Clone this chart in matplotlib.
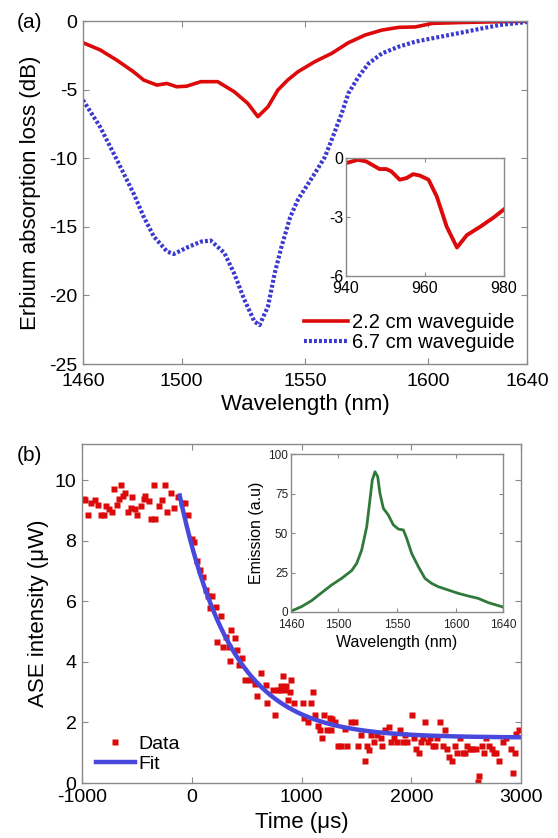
import matplotlib
matplotlib.use("Agg")
import matplotlib.pyplot as plt
import numpy as np

plt.rcParams["font.family"] = ["Liberation Sans", "DejaVu Sans"]
plt.rcParams["axes.unicode_minus"] = False

# ---- panel (a): erbium absorption loss ----
wl_22 = [1460, 1466.9, 1473.7, 1480.5, 1484.6, 1490, 1494, 1498, 1502, 1507.8,
         1514.6, 1521.3, 1526.8, 1530.9, 1535, 1539, 1543, 1547.2, 1554, 1560.8,
         1567.6, 1574.4, 1581.2, 1588, 1594.8, 1601.6, 1615, 1628.8, 1640]
loss_22 = [-1.58, -2.1, -2.85, -3.7, -4.3, -4.67, -4.55, -4.79, -4.75, -4.42,
           -4.42, -5.15, -6.0, -6.97, -6.25, -5.03, -4.3, -3.69, -2.96, -2.36,
           -1.58, -1.02, -0.66, -0.46, -0.43, -0.17, -0.1, -0.05, -0.02]

wl_67 = [1460, 1466.9, 1473.7, 1480.5, 1484.6, 1488.7, 1494.1, 1496.8, 1502.3,
         1507.8, 1511.8, 1517.3, 1521.3, 1525.4, 1529.5, 1531.6, 1535, 1537.7,
         1540.4, 1544, 1547.2, 1554, 1558.1, 1560.8, 1564.9, 1567.6, 1571.7,
         1575.8, 1581.2, 1588, 1594.8, 1601.6, 1608.4, 1615.2, 1622, 1628.8, 1640]
loss_67 = [-5.76, -7.7, -10.1, -12.56, -14.26, -15.7, -16.8, -16.98, -16.5,
           -16.08, -16.0, -16.9, -18.4, -20.3, -21.9, -22.16, -20.8, -18.4,
           -16.5, -14.3, -13.0, -11.1, -9.9, -8.67, -6.73, -5.27, -4.06,
           -3.09, -2.36, -1.87, -1.5, -1.26, -1.02, -0.78, -0.53, -0.29, -0.07]

wl_inset = [940, 943, 945.1, 948.5, 950.2, 951.5, 953.6, 955.3, 957, 958.7,
            960.9, 963, 965.5, 968.1, 970.6, 974, 977.4, 980]
loss_inset = [-0.26, -0.09, -0.17, -0.56, -0.56, -0.68, -1.1, -1.02, -0.82,
              -0.89, -1.1, -1.96, -3.49, -4.55, -3.92, -3.49, -3.02, -2.61]

# ---- panel (b): ASE decay ----
t_data = [-985, -970, -945, -915, -885, -855, -824, -803, -782, -758, -727,
          -706, -682, -667, -642, -630, -606, -582, -552, -545, -521, -500,
          -461, -439, -424, -394, -370, -348, -333, -303, -273, -248, -227,
          -188, -158, -121, -85, -61, -36, 0, 24, 48, 73, 103, 127, 145, 170,
          188, 224, 230, 270, 285, 309, 339, 352, 361, 391, 412, 430, 461,
          482, 527, 573, 594, 627, 673, 685, 739, 755, 785, 800, 815, 830,
          845, 860, 876, 891, 906, 936, 1012, 1027, 1058, 1088, 1109, 1127,
          1148, 1170, 1188, 1209, 1230, 1255, 1265, 1279, 1303, 1333, 1364,
          1400, 1418, 1455, 1485, 1515, 1539, 1576, 1594, 1615, 1636, 1661,
          1691, 1721, 1733, 1764, 1794, 1818, 1842, 1873, 1894, 1924, 1945,
          1965, 2006, 2027, 2042, 2067, 2088, 2109, 2127, 2148, 2170, 2194,
          2218, 2239, 2261, 2285, 2309, 2330, 2345, 2370, 2400, 2421, 2442,
          2467, 2491, 2512, 2533, 2558, 2594, 2606, 2618, 2642, 2664, 2685,
          2709, 2733, 2755, 2776, 2800, 2836, 2861, 2906, 2927, 2945, 2958,
          2982]
v_data = [9.37, 9.35, 8.84, 9.24, 9.35, 9.2, 8.84, 8.84, 9.15, 9.06, 8.95,
          9.72, 9.2, 9.37, 9.86, 9.48, 9.59, 8.95, 9.1, 9.46, 9.06, 8.84,
          9.15, 9.37, 9.48, 9.31, 8.71, 9.86, 8.71, 9.15, 9.35, 9.86, 8.95,
          9.59, 9.1, 9.46, 9.26, 9.24, 8.84, 8.07, 7.96, 7.33, 7.05, 6.81,
          6.37, 6.17, 5.78, 6.17, 5.82, 4.65, 5.53, 4.51, 4.82, 4.48, 4.02,
          5.05, 4.8, 4.4, 3.91, 4.13, 3.39, 3.39, 3.28, 2.88, 3.63, 3.25,
          2.64, 3.08, 2.25, 3.08, 3.08, 3.19, 3.52, 3.08, 3.19, 2.74, 3.02,
          3.39, 2.64, 2.64, 2.14, 2.0, 2.64, 3.02, 2.25, 1.87, 1.76, 1.48,
          2.25, 1.76, 2.14, 1.76, 2.1, 2.0, 1.22, 1.22, 1.78, 1.22, 2.0, 2.0,
          1.22, 1.59, 0.73, 1.22, 1.09, 1.59, 1.37, 1.59, 1.48, 1.22, 1.76,
          1.85, 1.37, 1.48, 1.37, 1.76, 1.37, 1.59, 1.37, 2.25, 1.48, 1.12,
          0.98, 1.37, 1.48, 2.0, 1.37, 1.48, 1.22, 1.22, 1.48, 2.0, 1.22,
          1.76, 1.12, 0.87, 0.73, 1.22, 0.98, 1.48, 0.98, 0.98, 1.22, 1.12,
          1.12, 1.12, 0.02, 0.23, 1.22, 0.98, 1.48, 1.22, 1.12, 0.98, 0.98,
          0.73, 1.37, 1.48, 1.12, 0.34, 0.98, 1.62, 1.76]

# single-exponential fit
fit_t0, fit_amp, fit_tau, fit_offset = -110, 8.0, 475, 1.5

# ---- inset (b): emission spectrum ----
wl_em = [1460, 1469, 1477.5, 1486, 1494.5, 1503, 1511.5, 1515.8, 1520, 1524.3,
         1527, 1529, 1531.3, 1533.6, 1535.5, 1538.4, 1542.6, 1546.9, 1551.1,
         1555.4, 1558.2, 1562.4, 1568.1, 1573.7, 1579.4, 1585, 1593.5, 1602,
         1610.6, 1619, 1627.6, 1638.9, 1640]
emission = [0.5, 3.4, 7.2, 12.2, 17.1, 21.3, 26.2, 30.8, 39.2, 54, 70.9, 83.5,
            88.8, 85.7, 75.1, 65.6, 61.4, 55.1, 52.5, 51.9, 46.6, 37.1, 28.7,
            21.3, 18.1, 16, 13.9, 11.8, 10.1, 8.6, 5.9, 3.4, 3.0]

RED = "#dc0a0a"
BLUE_DOT = "#3a3ad0"
BLUE_FIT = "#4848dc"
GREEN = "#2f7a3a"
FRAME = "#8a8a8a"


def matlab_axes(ax, labelsize, length=4):
    for s in ax.spines.values():
        s.set_color(FRAME)
        s.set_linewidth(1.0)
    ax.tick_params(direction="in", top=True, right=True, length=length,
                   color=FRAME, labelsize=labelsize, pad=4)


fig = plt.figure(figsize=(5.58, 8.38), dpi=100)

# (a) main
ax = fig.add_axes([0.1487, 0.5656, 0.7957, 0.4093])
ax.plot(wl_22, loss_22, color=RED, lw=2.6, label="2.2 cm waveguide")
ax.plot(wl_67, loss_67, color=BLUE_DOT, lw=3.0, ls=(0, (0.7, 0.5)),
        label="6.7 cm waveguide")
ax.set_xlim(1460, 1640)
ax.set_ylim(-25, 0)
ax.set_xticks([1460, 1500, 1550, 1600, 1640])
ax.set_yticks([-25, -20, -15, -10, -5, 0])
matlab_axes(ax, 14)
ax.tick_params(axis="x", pad=6.5)
ax.set_xlabel("Wavelength (nm)", fontsize=16, labelpad=3)
ax.set_ylabel("Erbium absorption loss (dB)", fontsize=16, labelpad=6)
ax.legend(loc="lower right", bbox_to_anchor=(1.0, 0.0), frameon=False,
          fontsize=14.5, handlelength=2.2, handletextpad=0.2, labelspacing=0.05,
          borderaxespad=0.2)

# (a) inset
axi = fig.add_axes([0.620, 0.6706, 0.2832, 0.1408])
axi.plot(wl_inset, loss_inset, color=RED, lw=2.8)
axi.set_xlim(940, 980)
axi.set_ylim(-6, 0)
axi.set_xticks([940, 960, 980])
axi.set_yticks([-6, -3, 0])
matlab_axes(axi, 11.5, length=3)
axi.tick_params(axis="x", pad=3.5)
axi.tick_params(axis="y", pad=2)

# (b) main
bx = fig.add_axes([0.147, 0.0656, 0.7867, 0.4045])
bx.plot(t_data, v_data, ls="none", marker="s", ms=3.8, color=RED,
        mec="none", label="Data")
t_fit = np.linspace(fit_t0, 3000, 300)
bx.plot(t_fit, fit_offset + fit_amp * np.exp(-(t_fit - fit_t0) / fit_tau),
        color=BLUE_FIT, lw=3.2, label="Fit")
bx.set_xlim(-1000, 3000)
bx.set_ylim(0, 11.2)
bx.set_xticks([-1000, 0, 1000, 2000, 3000])
bx.set_yticks([0, 2, 4, 6, 8, 10])
matlab_axes(bx, 14)
bx.tick_params(axis="x", pad=4.5)
bx.set_xlabel("Time (\u03bcs)", fontsize=16, labelpad=4)
bx.set_ylabel("ASE intensity (\u03bcW)", fontsize=16, labelpad=4)
bx.legend(loc="lower left", bbox_to_anchor=(0.005, -0.005), frameon=False,
          fontsize=14, handlelength=2.0, handletextpad=0.2, labelspacing=0.15,
          borderaxespad=0.2, markerscale=1.3)

# (b) inset
bxi = fig.add_axes([0.5215, 0.2697, 0.380, 0.1885])
bxi.plot(wl_em, emission, color=GREEN, lw=2.0)
bxi.set_xlim(1460, 1640)
bxi.set_ylim(0, 100)
bxi.set_xticks([1460, 1500, 1550, 1600, 1640])
bxi.set_yticks([0, 25, 50, 75, 100])
matlab_axes(bxi, 8.5, length=3)
bxi.tick_params(labelcolor="#222222")
bxi.tick_params(axis="x", pad=5)
bxi.tick_params(axis="y", pad=2)
bxi.set_xlabel("Wavelength (nm)", fontsize=11.5, labelpad=3)
bxi.set_ylabel("Emission (a.u)", fontsize=11.5, labelpad=3)

fig.text(29 / 558, 1 - 23 / 838, "(a)", fontsize=15, ha="center", va="center")
fig.text(29 / 558, 1 - 455 / 838, "(b)", fontsize=15, ha="center", va="center")

fig.savefig("out.png", dpi=100)
